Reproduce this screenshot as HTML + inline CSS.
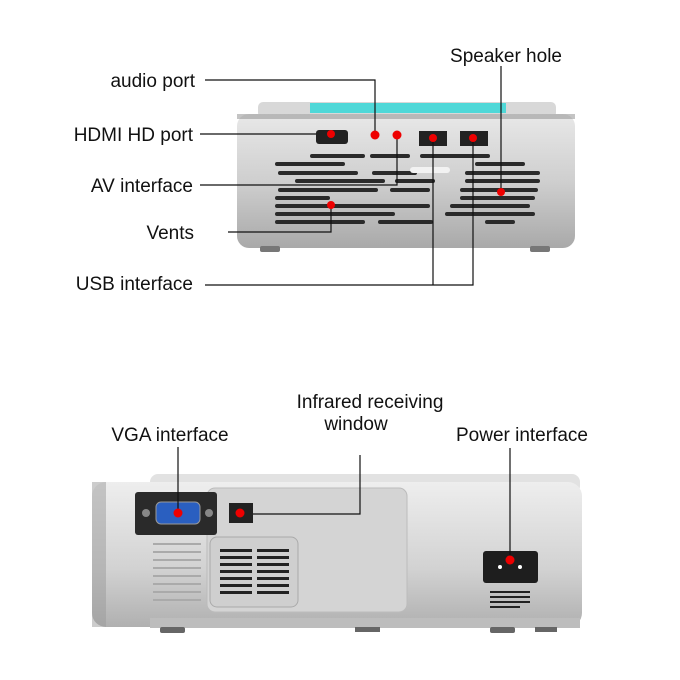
<!DOCTYPE html>
<html><head><meta charset="utf-8"><style>
html,body{margin:0;padding:0;background:#fff;}
svg{display:block}
text{font-family:"Liberation Sans",sans-serif;font-size:19px;fill:#111;}
</style></head><body>
<svg width="680" height="680" viewBox="0 0 680 680" xmlns="http://www.w3.org/2000/svg">
<defs>
<linearGradient id="gb" x1="0" y1="0" x2="0" y2="1">
<stop offset="0" stop-color="#e8e8e8"/><stop offset="0.5" stop-color="#cfcfcf"/><stop offset="1" stop-color="#a9a9a9"/></linearGradient>
<linearGradient id="gb2" x1="0" y1="0" x2="0" y2="1">
<stop offset="0" stop-color="#eeeeee"/><stop offset="0.6" stop-color="#d2d2d2"/><stop offset="1" stop-color="#b0b0b0"/></linearGradient>
</defs>
<!-- TOP DEVICE -->
<rect x="258" y="102" width="298" height="16" rx="5" fill="#d8d8d8"/>
<rect x="310" y="103" width="196" height="10" fill="#4fd8d8"/>
<rect x="237" y="114" width="338" height="134" rx="12" fill="url(#gb)"/>
<rect x="237" y="114" width="338" height="5" fill="#8a8a8a" opacity=".5"/>
<rect x="260" y="246" width="20" height="6" rx="2" fill="#777"/>
<rect x="530" y="246" width="20" height="6" rx="2" fill="#777"/>
<rect x="316" y="130" width="32" height="14" rx="3" fill="#222"/>
<rect x="419" y="131" width="28" height="15" fill="#222"/>
<rect x="460" y="131" width="28" height="15" fill="#222"/>
<g fill="#2a2a2a">
<rect x="310" y="154" width="55" height="4" rx="2"/><rect x="370" y="154" width="40" height="4" rx="2"/><rect x="420" y="154" width="70" height="4" rx="2"/>
<rect x="275" y="162" width="70" height="4" rx="2"/><rect x="475" y="162" width="50" height="4" rx="2"/>
<rect x="278" y="171" width="80" height="4" rx="2"/><rect x="372" y="171" width="45" height="4" rx="2"/><rect x="465" y="171" width="75" height="4" rx="2"/>
<rect x="295" y="179" width="90" height="4" rx="2"/><rect x="395" y="179" width="40" height="4" rx="2"/><rect x="465" y="179" width="75" height="4" rx="2"/>
<rect x="278" y="188" width="100" height="4" rx="2"/><rect x="390" y="188" width="40" height="4" rx="2"/><rect x="460" y="188" width="78" height="4" rx="2"/>
<rect x="275" y="196" width="55" height="4" rx="2"/><rect x="460" y="196" width="75" height="4" rx="2"/>
<rect x="275" y="204" width="100" height="4" rx="2"/><rect x="370" y="204" width="60" height="4" rx="2"/><rect x="450" y="204" width="80" height="4" rx="2"/>
<rect x="275" y="212" width="120" height="4" rx="2"/><rect x="445" y="212" width="90" height="4" rx="2"/>
<rect x="275" y="220" width="90" height="4" rx="2"/><rect x="378" y="220" width="55" height="4" rx="2"/><rect x="485" y="220" width="30" height="4" rx="2"/>
</g>
<rect x="410" y="167" width="40" height="6" rx="3" fill="#f2f2f2"/>
<!-- top lines -->
<g stroke="#111" stroke-width="1.2" fill="none">
<polyline points="205,80 375,80 375,135"/>
<polyline points="200,134 316,134"/>
<polyline points="200,185 397,185 397,135"/>
<polyline points="228,232 331,232 331,205"/>
<polyline points="205,285 473,285 473,138"/>
<polyline points="433,285 433,138"/>
<polyline points="501,66 501,192"/>
</g>
<g fill="#e00">
<circle cx="331" cy="134" r="4"/><circle cx="375" cy="135" r="4.5"/><circle cx="397" cy="135" r="4.5"/>
<circle cx="433" cy="138" r="4"/><circle cx="473" cy="138" r="4"/><circle cx="501" cy="192" r="4"/><circle cx="331" cy="205" r="4"/>
</g>
<text x="195" y="87" text-anchor="end">audio port</text>
<text x="193" y="141" text-anchor="end">HDMI HD port</text>
<text x="193" y="192" text-anchor="end">AV interface</text>
<text x="194" y="239" text-anchor="end">Vents</text>
<text x="193" y="290" text-anchor="end">USB interface</text>
<text x="506" y="62" text-anchor="middle">Speaker hole</text>
<!-- BOTTOM DEVICE -->
<rect x="150" y="474" width="430" height="20" rx="8" fill="#e2e2e2"/>
<rect x="92" y="482" width="490" height="145" rx="14" fill="url(#gb2)"/>
<rect x="92" y="482" width="14" height="145" fill="#9a9a9a" opacity=".5"/>
<rect x="207" y="488" width="200" height="124" rx="8" fill="#d4d4d4" stroke="#bbb"/>
<rect x="150" y="618" width="430" height="10" fill="#bdbdbd"/>
<g fill="#666"><rect x="160" y="627" width="25" height="6" rx="2"/><rect x="355" y="627" width="25" height="5"/><rect x="490" y="627" width="25" height="6" rx="2"/><rect x="535" y="627" width="22" height="5"/></g>
<rect x="135" y="492" width="82" height="43" rx="3" fill="#2a2a2a"/>
<rect x="156" y="502" width="44" height="22" rx="5" fill="#2a5fc0" stroke="#999"/>
<circle cx="146" cy="513" r="4" fill="#888"/><circle cx="209" cy="513" r="4" fill="#888"/>
<rect x="229" y="503" width="24" height="20" fill="#222"/>
<rect x="210" y="537" width="88" height="70" rx="7" fill="#cfcfcf" stroke="#aaa"/>
<g fill="#222">
<rect x="220" y="549" width="32" height="3"/><rect x="257" y="549" width="32" height="3"/>
<rect x="220" y="556" width="32" height="3"/><rect x="257" y="556" width="32" height="3"/>
<rect x="220" y="563" width="32" height="3"/><rect x="257" y="563" width="32" height="3"/>
<rect x="220" y="570" width="32" height="3"/><rect x="257" y="570" width="32" height="3"/>
<rect x="220" y="577" width="32" height="3"/><rect x="257" y="577" width="32" height="3"/>
<rect x="220" y="584" width="32" height="3"/><rect x="257" y="584" width="32" height="3"/>
<rect x="220" y="591" width="32" height="3"/><rect x="257" y="591" width="32" height="3"/>
</g>
<g fill="#aaa"><rect x="153" y="543" width="48" height="2"/><rect x="153" y="551" width="48" height="2"/><rect x="153" y="559" width="48" height="2"/><rect x="153" y="567" width="48" height="2"/><rect x="153" y="575" width="48" height="2"/><rect x="153" y="583" width="48" height="2"/><rect x="153" y="591" width="48" height="2"/><rect x="153" y="599" width="48" height="2"/></g>
<rect x="483" y="551" width="55" height="32" rx="3" fill="#1e1e1e"/>
<circle cx="500" cy="567" r="2" fill="#fff"/><circle cx="520" cy="567" r="2" fill="#fff"/>
<g fill="#222"><rect x="490" y="591" width="40" height="2"/><rect x="490" y="596" width="40" height="2"/><rect x="490" y="601" width="40" height="2"/><rect x="490" y="606" width="30" height="2"/></g>
<g stroke="#111" stroke-width="1.2" fill="none">
<polyline points="178,447 178,513"/>
<polyline points="253,514 360,514 360,455"/>
<polyline points="510,448 510,560"/>
</g>
<g fill="#e00"><circle cx="178" cy="513" r="4.5"/><circle cx="240" cy="513" r="4.5"/><circle cx="510" cy="560" r="4.5"/></g>
<text x="170" y="441" text-anchor="middle">VGA interface</text>
<text x="370" y="408" text-anchor="middle">Infrared receiving</text>
<text x="356" y="430" text-anchor="middle">window</text>
<text x="522" y="441" text-anchor="middle">Power interface</text>
</svg>
</body></html>
